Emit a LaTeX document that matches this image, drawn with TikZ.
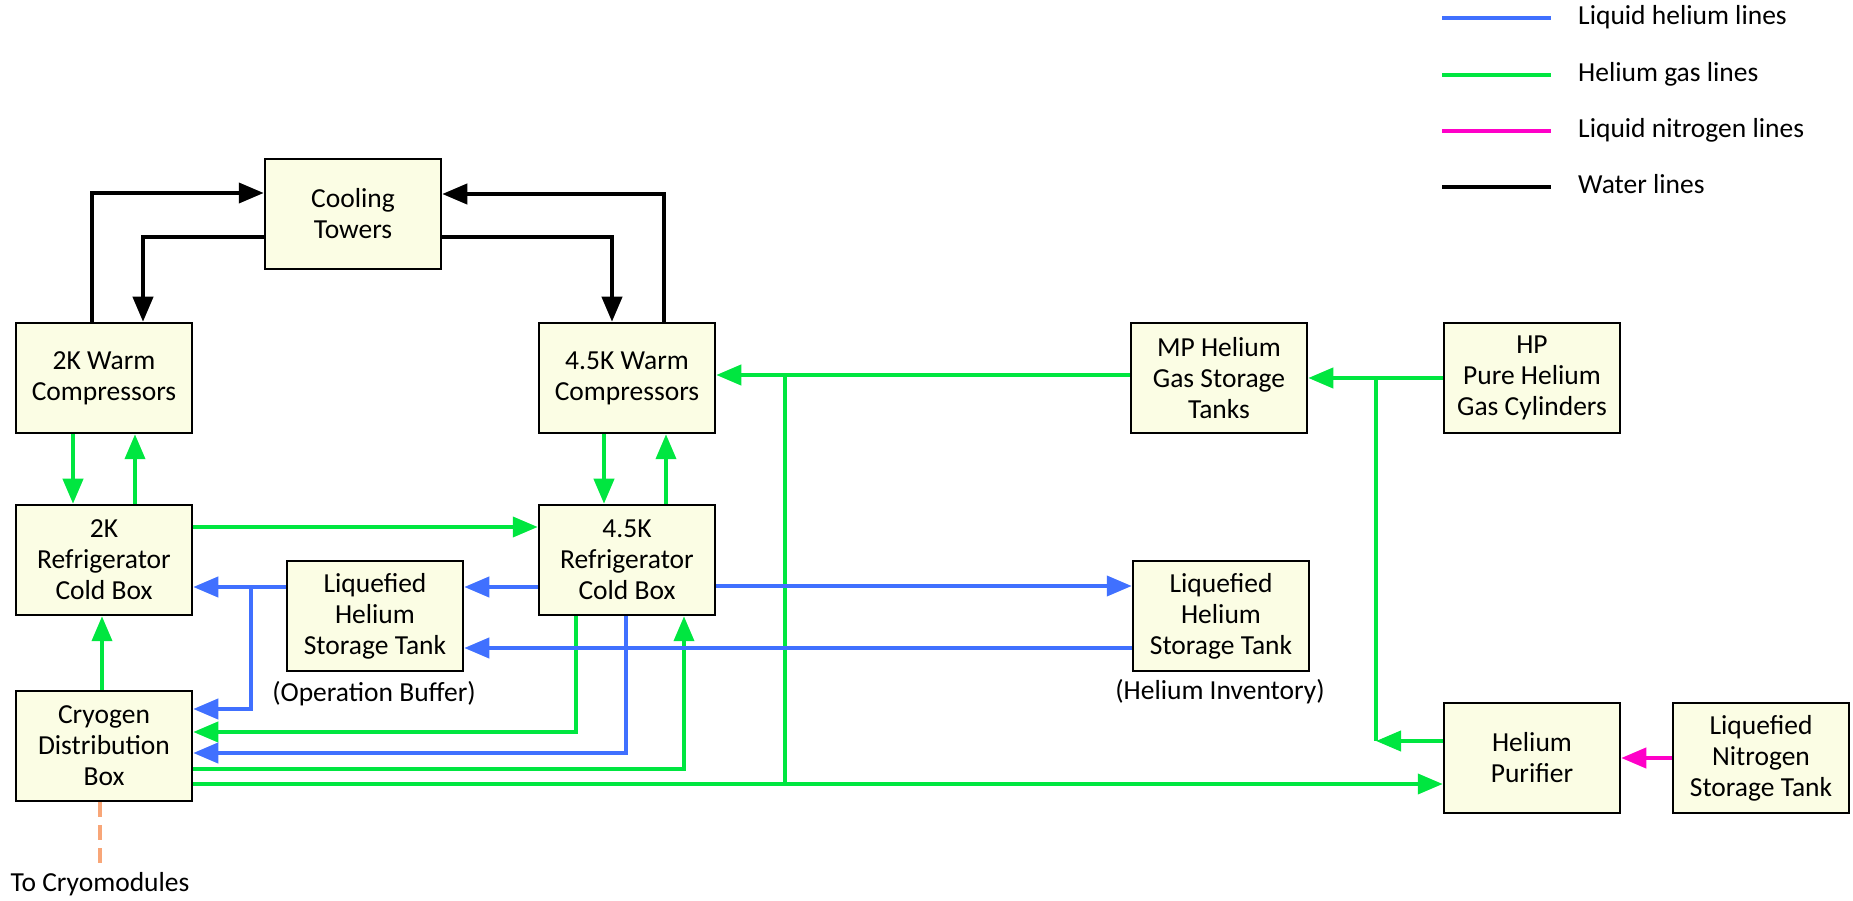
\documentclass[tikz,border=0pt]{standalone}
\usepackage{fontspec}
\setmainfont{Carlito}
\usetikzlibrary{arrows.meta}
\definecolor{boxfill}{RGB}{251,253,228}
\definecolor{heblue}{RGB}{64,112,255}
\definecolor{hegreen}{RGB}{0,230,64}
\definecolor{lnmag}{RGB}{255,0,200}
\definecolor{cryoorange}{RGB}{248,166,120}
\begin{document}
\begin{tikzpicture}[x=1pt,y=1pt,
  box/.style={draw=black, line width=2.5pt, fill=boxfill, minimum width=176pt, minimum height=110pt, inner sep=0pt, align=center, font=\fontsize{27.5}{31}\selectfont},
  lbl/.style={font=\fontsize{27.5}{31}\selectfont, inner sep=0pt},
  tip/.style={-{Triangle[length=25pt,width=20pt]}},
  water/.style={draw=black, line width=4pt},
  gas/.style={draw=hegreen, line width=4pt},
  lhe/.style={draw=heblue, line width=4pt},
  lnl/.style={draw=lnmag, line width=4pt},
]
\useasboundingbox (0,0) rectangle (1853,900);

% boxes
\node[box] (CT) at (353,686) {Cooling\\Towers};
\node[box] (W2) at (104,522) {2K Warm\\Compressors};
\node[box] (W45) at (627,522) {4.5K Warm\\Compressors};
\node[box] (MP) at (1219,522) {MP Helium\\Gas Storage\\Tanks};
\node[box] (HP) at (1532,522) {HP\\Pure Helium\\Gas Cylinders};
\node[box] (R2) at (104,340) {2K\\Refrigerator\\Cold Box};
\node[box] (R45) at (627,340) {4.5K\\Refrigerator\\Cold Box};
\node[box] (T1) at (375,284) {Liquefied\\Helium\\Storage Tank};
\node[box] (T2) at (1221,284) {Liquefied\\Helium\\Storage Tank};
\node[box] (CD) at (104,154) {Cryogen\\Distribution\\Box};
\node[box] (PU) at (1532,142) {Helium\\Purifier};
\node[box] (LN) at (1761,142) {Liquefied\\Nitrogen\\Storage Tank};

% labels
\node[lbl] (opbuf) at (374,206) {(Operation Buffer)};
\node[lbl] (heinv) at (1220,208) {(Helium Inventory)};
\node[lbl] (tocryo) at (100,16) {To Cryomodules};

% water lines
\draw[water,tip] ([xshift=-12pt]W2.north) |- ([yshift=21pt]CT.west);
\draw[water,tip] ([yshift=-23pt]CT.west) -| ([xshift=39pt]W2.north);
\draw[water,tip] ([yshift=-23pt]CT.east) -| ([xshift=-15pt]W45.north);
\draw[water,tip] ([xshift=37pt]W45.north) |- ([yshift=20pt]CT.east);

% helium gas lines
\draw[gas,tip] ([xshift=-31pt]W2.south) -- ([xshift=-31pt]R2.north);
\draw[gas,tip] ([xshift=31pt]R2.north) -- ([xshift=31pt]W2.south);
\draw[gas,tip] ([xshift=-23pt]W45.south) -- ([xshift=-23pt]R45.north);
\draw[gas,tip] ([xshift=39pt]R45.north) -- ([xshift=39pt]W45.south);
\draw[gas,tip] ([yshift=33pt]R2.east) -- ([yshift=33pt]R45.west);
\draw[gas,tip] ([xshift=-2pt]CD.north) -- ([xshift=-2pt]R2.south);
\draw[gas,tip] ([yshift=3pt]MP.west) -- ([yshift=3pt]W45.east);
\coordinate (J1) at (785,525);
\coordinate (J2) at (785,116);
\draw[gas] (J1) -- (J2);
\draw[gas,tip] ([yshift=-38pt]CD.east) -- ([yshift=-26pt]PU.west);
\draw[gas,tip] (HP.west) -- (MP.east);
\coordinate (J3) at (1376,522);
\coordinate (J4) at (1376,159);
\draw[gas] (J3) -- (J4);
\draw[gas,tip] ([yshift=17pt]PU.west) -- (J4);
\draw[gas,tip] ([yshift=-23pt]CD.east) -| ([xshift=57pt]R45.south);
\draw[gas,tip] ([xshift=-51pt]R45.south) |- ([yshift=14pt]CD.east);

% liquid helium lines
\draw[lhe,tip] ([yshift=-27pt]R45.west) -- ([yshift=29pt]T1.east);
\draw[lhe,tip] ([yshift=29pt]T1.west) -- ([yshift=-27pt]R2.east);
\coordinate (J5) at (251,313);
\draw[lhe,tip] (J5) |- ([yshift=37pt]CD.east);
\draw[lhe,tip] ([xshift=-1pt]R45.south) |- ([yshift=-7pt]CD.east);
\draw[lhe,tip] ([yshift=-26pt]R45.east) -- ([yshift=30pt]T2.west);
\draw[lhe,tip] ([yshift=-32pt]T2.west) -- ([yshift=-32pt]T1.east);

% liquid nitrogen line
\draw[lnl,tip] (LN.west) -- (PU.east);

% to cryomodules
\draw[cryoorange, line width=3.5pt, dash pattern=on 15pt off 8pt] ([xshift=-4pt]CD.south) -- ([yshift=4pt]tocryo.north);

% legend
\node[lbl, anchor=base west] (L1) at (1578,875) {Liquid helium lines};
\node[lbl, anchor=base west] (L2) at (1578,818) {Helium gas lines};
\node[lbl, anchor=base west] (L3) at (1578,762) {Liquid nitrogen lines};
\node[lbl, anchor=base west] (L4) at (1578,706) {Water lines};
\draw[lhe] ([xshift=-136pt,yshift=7pt]L1.base west) -- ([xshift=-27pt,yshift=7pt]L1.base west);
\draw[gas] ([xshift=-136pt,yshift=7pt]L2.base west) -- ([xshift=-27pt,yshift=7pt]L2.base west);
\draw[lnl] ([xshift=-136pt,yshift=7pt]L3.base west) -- ([xshift=-27pt,yshift=7pt]L3.base west);
\draw[water] ([xshift=-136pt,yshift=7pt]L4.base west) -- ([xshift=-27pt,yshift=7pt]L4.base west);
\end{tikzpicture}
\end{document}
